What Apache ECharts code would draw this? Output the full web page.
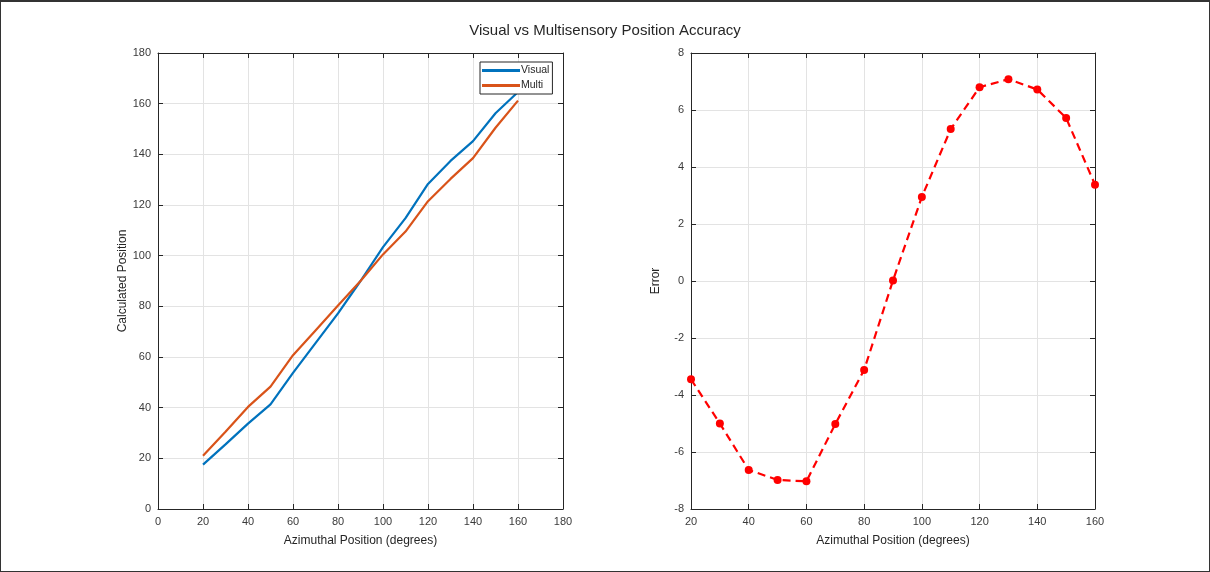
<!DOCTYPE html>
<html>
<head>
<meta charset="utf-8">
<script src="https://cdn.jsdelivr.net/npm/echarts@6/dist/echarts.min.js"></script>
<style>
  html, body { margin: 0; padding: 0; background: #fff; }
  #wrap { width: 1210px; height: 572px; position: relative; }
  #chart { position: absolute; left: 0; top: 0; width: 1210px; height: 572px; }
  #frame { position: absolute; left: 0; top: 0; width: 1210px; height: 572px; box-sizing: border-box;
           border: 1px solid #333; border-top-width: 2px; pointer-events: none; }
</style>
</head>
<body>
<div id="wrap"><div id="chart"></div><div id="frame"></div></div>
<script>
// Azimuthal positions tested (degrees)
const azimuth = [20, 30, 40, 50, 60, 70, 80, 90, 100, 110, 120, 130, 140, 150, 160];
// Calculated positions for each condition
const visualPos = [17.5, 25.5, 33.7, 41.3, 53.7, 65.5, 77.2, 90.0, 103.4, 114.8, 128.3, 137.4, 145.2, 156.2, 164.6];
const multiPos  = [21.0, 30.5, 40.3, 48.3, 60.7, 70.5, 80.3, 90.0, 100.5, 109.5, 121.5, 130.3, 138.5, 150.5, 161.2];
// Visual minus multisensory error
const errorVals = [-3.45, -5.0, -6.63, -6.98, -7.03, -5.02, -3.12, 0.02, 2.95, 5.33, 6.8, 7.08, 6.72, 5.72, 3.38];

const leftX = { min: 0, max: 180, interval: 20 };
const leftY = { min: 0, max: 180, interval: 20 };
const rightX = { min: 20, max: 160, interval: 20 };
const rightY = { min: -8, max: 8, interval: 2 };

const pairs = (xs, ys) => xs.map((x, i) => [x, ys[i]]);

const FONT = '"Liberation Sans", Arial, sans-serif';
const AX = '#262626';
const GRID = '#e3e3e3';

function mainAxis(range, gridIndex, position, name, nameGap, rotate) {
  return {
    type: 'value', gridIndex, position,
    min: range.min, max: range.max, interval: range.interval,
    name, nameLocation: 'middle', nameGap, nameRotate: rotate,
    nameTextStyle: { fontFamily: FONT, fontSize: 12, color: AX },
    axisLine: { show: true, onZero: false, lineStyle: { color: AX, width: 1 } },
    axisTick: { show: true, inside: true, length: 5, lineStyle: { color: AX } },
    axisLabel: { fontFamily: FONT, fontSize: 11, color: '#3a3a3a', margin: 7 },
    splitLine: { show: true, lineStyle: { color: GRID, width: 1 } }
  };
}
function boxAxis(range, gridIndex, position) {
  return {
    type: 'value', gridIndex, position,
    min: range.min, max: range.max, interval: range.interval,
    axisLine: { show: true, onZero: false, lineStyle: { color: AX, width: 1 } },
    axisTick: { show: true, inside: true, length: 5, lineStyle: { color: AX } },
    axisLabel: { show: false },
    splitLine: { show: false }
  };
}

const chart = echarts.init(document.getElementById('chart'), null, { renderer: 'canvas' });
chart.setOption({
  animation: false,
  backgroundColor: '#fff',
  title: {
    text: 'Visual vs Multisensory Position Accuracy',
    left: 'center', top: 18,
    textStyle: { fontFamily: FONT, fontSize: 15, fontWeight: 'normal', color: AX }
  },
  legend: {
    data: ['Visual', 'Multi'],
    orient: 'vertical',
    left: 480, top: 62,
    itemWidth: 38, itemHeight: 3, itemGap: 4,
    icon: 'rect',
    padding: [3, 3, 3, 2],
    borderColor: AX, borderWidth: 1, backgroundColor: '#fff',
    textStyle: { fontFamily: FONT, fontSize: 10.5, color: AX, padding: [0, 0, 0, -4] }
  },
  grid: [
    { left: 158, right: 647, top: 53, bottom: 63 },
    { left: 691, right: 115, top: 53, bottom: 63 }
  ],
  xAxis: [
    mainAxis(leftX, 0, 'bottom', 'Azimuthal Position (degrees)', 26, 0),
    mainAxis(rightX, 1, 'bottom', 'Azimuthal Position (degrees)', 26, 0),
    boxAxis(leftX, 0, 'top'),
    boxAxis(rightX, 1, 'top')
  ],
  yAxis: [
    mainAxis(leftY, 0, 'left', 'Calculated Position', 29, 90),
    mainAxis(rightY, 1, 'left', 'Error', 29, 90),
    boxAxis(leftY, 0, 'right'),
    boxAxis(rightY, 1, 'right')
  ],
  series: [
    {
      name: 'Visual', type: 'line', xAxisIndex: 0, yAxisIndex: 0,
      data: pairs(azimuth, visualPos), showSymbol: false, symbol: 'none',
      lineStyle: { color: '#0072BD', width: 2.2 }, itemStyle: { color: '#0072BD' }
    },
    {
      name: 'Multi', type: 'line', xAxisIndex: 0, yAxisIndex: 0,
      data: pairs(azimuth, multiPos), showSymbol: false, symbol: 'none',
      lineStyle: { color: '#D95319', width: 2.2 }, itemStyle: { color: '#D95319' }
    },
    {
      name: 'Error', type: 'line', xAxisIndex: 1, yAxisIndex: 1,
      data: pairs(azimuth, errorVals),
      symbol: 'circle', symbolSize: 8,
      lineStyle: { color: '#FF0000', width: 2.2, type: [8, 5] },
      itemStyle: { color: '#FF0000' }
    }
  ]
});
</script>
</body>
</html>
